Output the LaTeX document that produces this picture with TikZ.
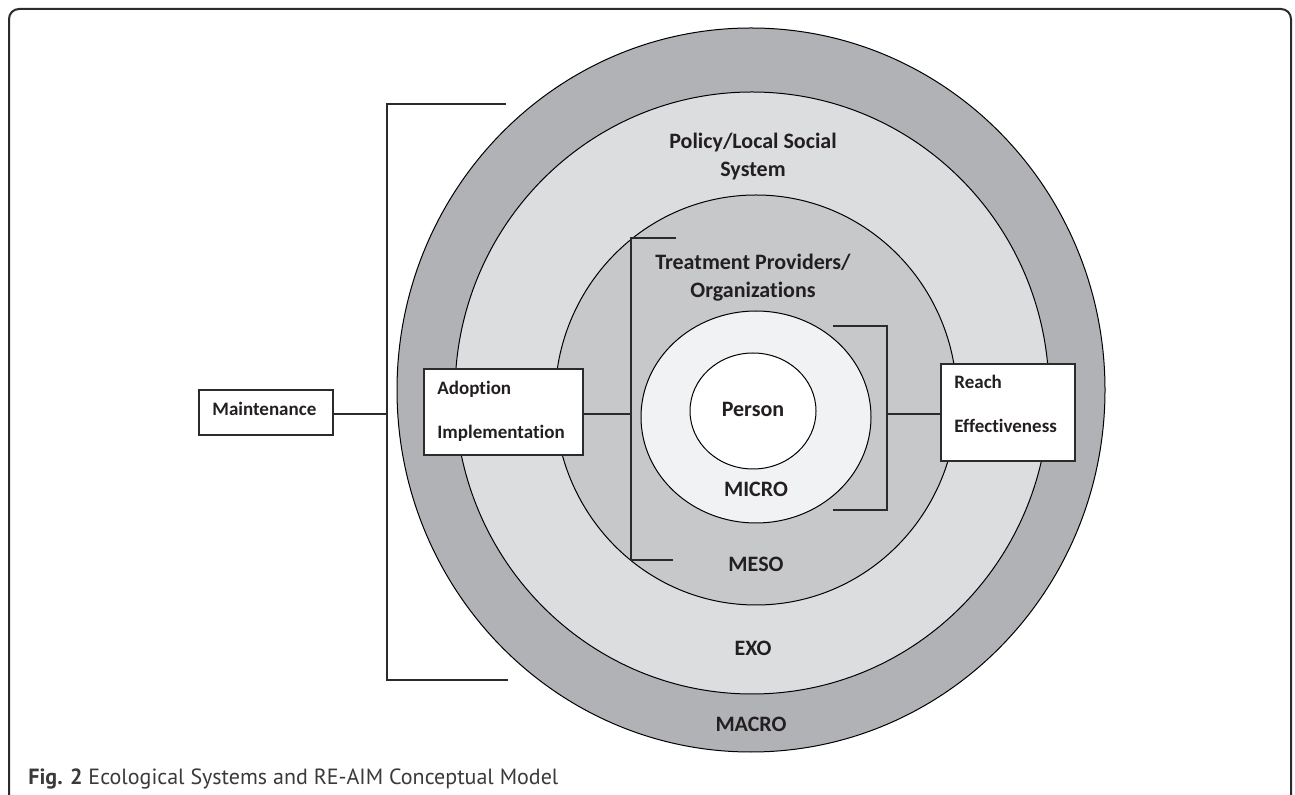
\documentclass[tikz,border=0pt]{standalone}
\usepackage{fontspec}
\setmainfont{Carlito}[Ligatures=NoCommon]
\newfontfamily\capfont{PT Sans}

\definecolor{macrofill}{HTML}{B1B2B5}
\definecolor{exofill}{HTML}{DCDDDF}
\definecolor{mesofill}{HTML}{C7C8CA}
\definecolor{microfill}{HTML}{F1F2F4}
\definecolor{inkline}{HTML}{2B2B2B}
\definecolor{textink}{HTML}{231F20}
\definecolor{captionink}{HTML}{3A3A3A}

\tikzset{
  ring/.style={draw=black, line width=0.5pt},
  ringlabel/.style={font=\fontsize{11}{13.5}\selectfont\bfseries, text=textink,
    inner sep=0pt, anchor=base, align=center},
  rebox/.style={draw=inkline, line width=0.75pt, fill=white, inner sep=0pt},
  boxlabel/.style={font=\fontsize{9.5}{22}\selectfont\bfseries, text=textink,
    inner sep=0pt, anchor=base west, align=left},
  bracketline/.style={draw=inkline, line width=0.75pt},
}

\begin{document}
\begin{tikzpicture}[x=0.5pt, y=-0.5pt]
  \useasboundingbox (0,0) rectangle (1295,795);
  \fill[white] (0,0) rectangle (1295,795);

  % figure frame, open at the bottom
  \draw[line width=1pt, draw=inkline, rounded corners=5pt]
    (9,795) -- (9,9) -- (1291,9) -- (1291,795);

  % nested ecological levels
  \draw[ring, fill=macrofill] (751,390) ellipse [x radius=354, y radius=362];
  \draw[ring, fill=exofill]   (752,393) ellipse [x radius=297, y radius=301];
  \draw[ring, fill=mesofill]  (756,400) ellipse [x radius=201, y radius=205];
  \draw[ring, fill=microfill] (756,417) ellipse [x radius=115, y radius=106];
  \draw[ring, fill=white]     (753,411) ellipse [x radius=63,  y radius=58];

  % level labels (base anchor sits on the last line)
  \node[ringlabel] (policy) at (753,177) {Policy/Local Social\\[0.5pt]System};
  \node[ringlabel] (treat)  at (753,298) {Treatment Providers/\\[0.5pt]Organizations};
  \node[ringlabel] (person) at (753,417) {Person};
  \node[ringlabel] (micro)  at (756,497) {MICRO};
  \node[ringlabel] (meso)   at (756,572) {MESO};
  \node[ringlabel] (exo)    at (753,656) {EXO};
  \node[ringlabel] (macro)  at (751,732) {MACRO};

  % brackets
  \coordinate (bigjoin)   at (387,414);
  \coordinate (midjoin)   at (631,414);
  \coordinate (rightjoin) at (887,414);
  \draw[bracketline] (506,104) -- (387,104) -- (387,680) -- (508,680);
  \draw[bracketline] (676,238) -- (631,238) -- (631,560) -- (673,560);
  \draw[bracketline] (833,326) -- (887,326) -- (887,510) -- (833,510);

  % RE-AIM boxes
  \node[rebox, minimum width=67pt,   minimum height=22.5pt] (maint) at (266,412.5) {};
  \node[rebox, minimum width=79.5pt, minimum height=43pt]   (adopt) at (503.5,412) {};
  \node[rebox, minimum width=67pt,   minimum height=48.5pt] (reach) at (1008,412.5) {};

  \node[boxlabel] (maintlbl) at (212,416) {Maintenance};
  \node[boxlabel] (adoptlbl) at (437,439) {Adoption\\Implementation};
  \node[boxlabel] (reachlbl) at (954,433) {Reach\\Effectiveness};

  % connectors
  \draw[bracketline] (maint.east |- bigjoin) -- (bigjoin);
  \draw[bracketline] (adopt.east |- midjoin) -- (midjoin);
  \draw[bracketline] (rightjoin) -- (reach.west |- rightjoin);

  % caption
  \node[anchor=base west, inner sep=0pt, text=captionink,
        font=\capfont\fontsize{11}{13}\selectfont] (caption) at (28,784)
    {\textbf{Fig. 2} Ecological Systems and RE-AIM Conceptual Model};
\end{tikzpicture}
\end{document}
